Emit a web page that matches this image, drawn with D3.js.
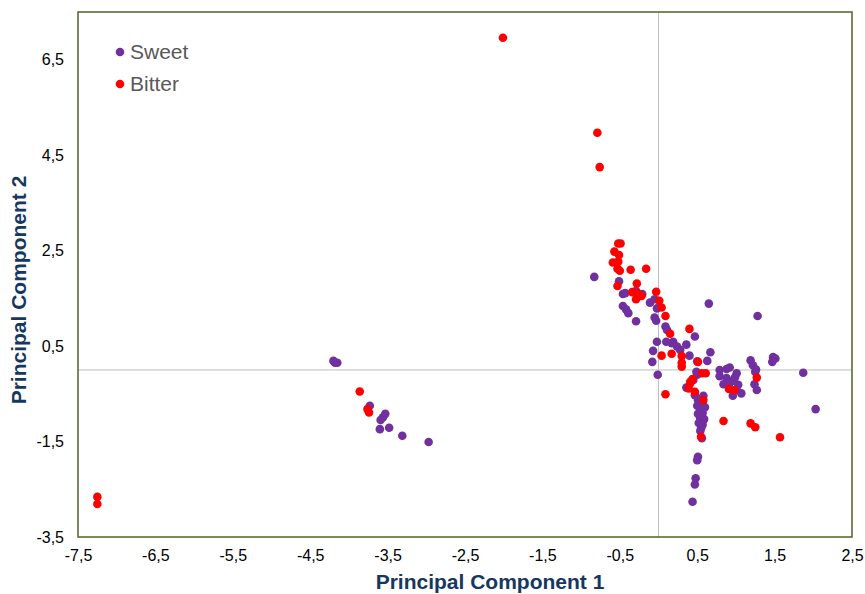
<!DOCTYPE html>
<html><head><meta charset="utf-8">
<script src="https://cdn.jsdelivr.net/npm/d3@7"></script>
<style>body{margin:0;background:#fff;} svg{display:block;}</style>
</head><body>
<svg id="chart" width="865" height="594"></svg>
<script>
const seriesNames = ["Sweet", "Bitter"];
const seriesColors = ["#7030A0", "#FF0000"];
const xTicks = [-7.5,-6.5,-5.5,-4.5,-3.5,-2.5,-1.5,-0.5,0.5,1.5,2.5];
const yTicks = [-3.5,-1.5,0.5,2.5,4.5,6.5];
const xTitle = "Principal Component 1";
const yTitle = "Principal Component 2";

const sweet = [
 [-4.20,0.19],[-4.15,0.15],[-4.18,0.15],[-3.73,-0.75],[-3.53,-0.92],[-3.56,-0.99],[-3.59,-1.05],[-3.60,-1.24],[-3.48,-1.21],[-3.31,-1.38],[-2.97,-1.51],
 [-0.83,1.95],[-0.51,1.86],[-0.46,1.59],[-0.43,1.61],[-0.21,1.59],[-0.29,1.66],[-0.46,1.34],[-0.42,1.27],[-0.39,1.19],[-0.29,1.02],
 [-0.11,1.41],[-0.05,1.48],[-0.02,1.29],[-0.05,1.10],[-0.03,1.03],[0.09,0.91],[0.11,0.84],[0.65,1.39],[1.28,1.13],[0.47,0.70],
 [-0.02,0.59],[0.10,0.59],[0.19,0.59],[0.17,0.56],[0.24,0.49],[0.28,0.42],[0.36,0.53],[-0.07,0.40],[0.40,0.30],[0.67,0.37],
 [-0.08,0.17],[0.50,0.18],[0.63,0.19],[-0.01,-0.10],[0.49,-0.04],[0.50,-0.10],[0.45,-0.21],[0.36,-0.37],[0.47,-0.53],[0.58,-0.54],
 [0.51,-0.63],[0.57,-0.69],[0.50,-0.75],[0.60,-0.78],[0.54,-0.84],[0.51,-0.92],[0.57,-0.90],[0.54,-1.01],[0.59,-1.03],[0.52,-1.11],
 [0.57,-1.15],[0.55,-1.22],[0.54,-1.28],[0.56,-1.43],[0.51,-1.82],[0.50,-1.89],[0.48,-2.27],[0.47,-2.40],[0.44,-2.76],
 [0.79,0.00],[0.88,0.02],[0.92,0.05],[1.01,-0.07],[0.99,-0.15],[0.88,-0.17],[0.96,-0.23],[0.84,-0.30],[0.92,-0.27],[1.03,-0.31],
 [1.07,-0.49],[0.96,-0.54],[1.01,-0.42],[0.79,-0.13],[1.19,0.20],[1.22,0.10],[1.26,0.01],[1.25,-0.04],[1.24,-0.30],[1.27,-0.42],
 [1.48,0.27],[1.51,0.24],[1.47,0.17],[1.87,-0.06],[2.03,-0.82]
];
const bitter = [
 [-2.01,6.96],[-0.79,4.97],[-0.76,4.25],[-7.25,-2.66],[-7.25,-2.81],[-3.86,-0.45],[-3.76,-0.82],[-3.74,-0.89],
 [-0.52,2.65],[-0.49,2.65],[-0.57,2.48],[-0.51,2.41],[-0.59,2.25],[-0.52,2.27],[-0.53,2.12],[-0.50,2.08],[-0.36,2.10],[-0.16,2.12],
 [-0.53,1.76],[-0.28,1.81],[-0.34,1.63],[-0.27,1.61],[-0.22,1.55],[-0.29,1.48],[-0.03,1.64],[0.01,1.45],[0.04,1.31],[0.09,1.13],
 [0.40,0.86],[0.15,0.76],[0.04,0.30],[0.17,0.34],[0.30,0.29],[0.30,0.15],[0.30,0.07],[0.51,0.17],[0.56,-0.07],[0.61,-0.07],
 [0.44,-0.19],[0.41,-0.28],[0.39,-0.39],[0.47,-0.46],[0.09,-0.51],[0.58,-0.63],[0.91,-0.40],[0.98,-0.42],[1.27,-0.16],
 [0.84,-1.07],[1.19,-1.12],[1.25,-1.20],[1.57,-1.41],[0.55,-1.40],[0.41,-0.25]
];
const seriesData = [sweet, bitter];

const svg = d3.select("#chart");
const L = 78, R = 852, T = 12, B = 537;
const x = d3.scaleLinear().domain([-7.5, 2.5]).range([L, R]);
const y = d3.scaleLinear().domain([-3.5, 7.5]).range([B, T]);
const fmt = d => d3.format(".1f")(d).replace(".", ",").replace("−","-");
const FONT = "Arial, 'Liberation Sans', sans-serif";

// zero lines
svg.append("line").attr("x1", x(0)).attr("x2", x(0)).attr("y1", T).attr("y2", B)
  .attr("stroke", "#BFBFBF").attr("stroke-width", 1);
svg.append("line").attr("x1", L).attr("x2", R).attr("y1", y(0)).attr("y2", y(0))
  .attr("stroke", "#BFBFBF").attr("stroke-width", 1);

// axes (labels only)
const xAxis = svg.append("g").attr("transform", `translate(0,${B})`)
  .call(d3.axisBottom(x).tickValues(xTicks).tickFormat(fmt).tickSize(0).tickPadding(13));
const yAxis = svg.append("g").attr("transform", `translate(${L},0)`)
  .call(d3.axisLeft(y).tickValues(yTicks).tickFormat(fmt).tickSize(0).tickPadding(14));
[xAxis, yAxis].forEach(a => {
  a.select(".domain").remove();
  a.selectAll("text").attr("font-family", FONT)
    .attr("font-size", 16).attr("fill", "#000");
});

// frame
svg.append("rect").attr("x", L).attr("y", T).attr("width", R - L).attr("height", B - T)
  .attr("fill", "none").attr("stroke", "#4F6228").attr("stroke-width", 1.5);

// points
seriesData.forEach((data, i) => {
  svg.append("g").selectAll("circle").data(data).join("circle")
    .attr("cx", d => x(d[0])).attr("cy", d => y(d[1])).attr("r", 4.3)
    .attr("fill", seriesColors[i]);
});

// legend
seriesNames.forEach((n, i) => {
  const g = svg.append("g").attr("transform", `translate(120,${52 + i * 32})`);
  g.append("circle").attr("r", 4.3).attr("fill", seriesColors[i]);
  g.append("text").attr("x", 10).attr("y", 7).text(n)
    .attr("font-family", FONT).attr("font-size", 21).attr("fill", "#595959");
});

// titles
svg.append("text").attr("x", 490).attr("y", 589).attr("text-anchor", "middle")
  .attr("font-family", FONT).attr("font-weight", "bold")
  .attr("font-size", 21).attr("fill", "#17375E").text(xTitle);
svg.append("text").attr("transform", `translate(26,290) rotate(-90)`).attr("text-anchor", "middle")
  .attr("font-family", FONT).attr("font-weight", "bold")
  .attr("font-size", 21).attr("fill", "#17375E").text(yTitle);
</script>
</body></html>
